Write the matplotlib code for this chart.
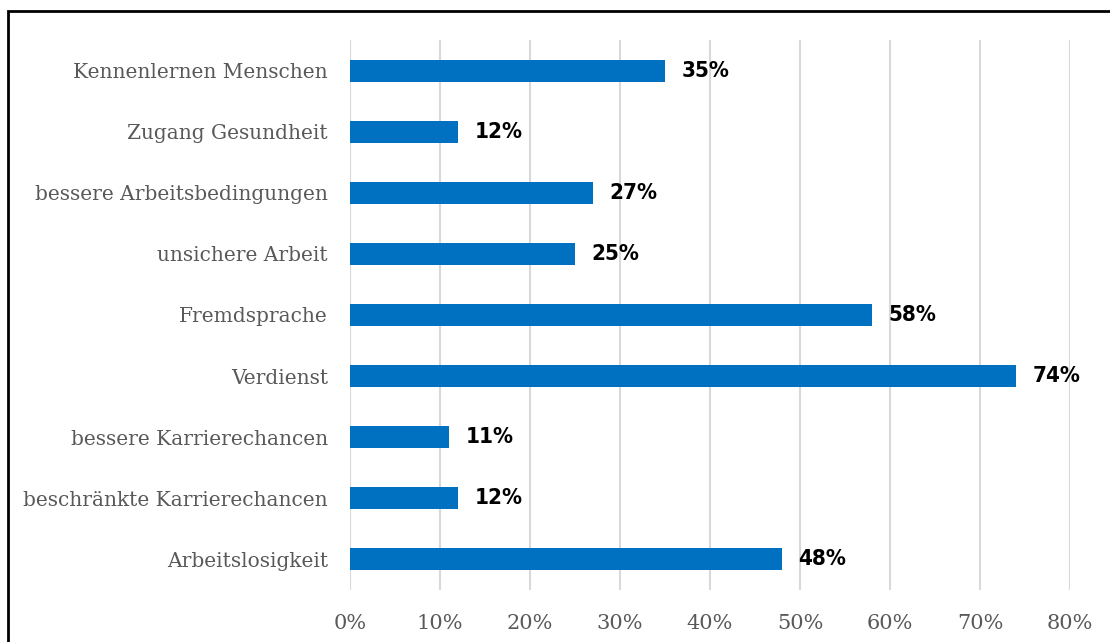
import matplotlib.pyplot as plt
from matplotlib.patches import Rectangle
from matplotlib.ticker import FuncFormatter

# categories listed top to bottom
categories = [
    'Kennenlernen Menschen',
    'Zugang Gesundheit',
    'bessere Arbeitsbedingungen',
    'unsichere Arbeit',
    'Fremdsprache',
    'Verdienst',
    'bessere Karrierechancen',
    'beschränkte Karrierechancen',
    'Arbeitslosigkeit',
]
values = [35, 12, 27, 25, 58, 74, 11, 12, 48]
x_ticks = [0, 10, 20, 30, 40, 50, 60, 70, 80]

fig = plt.figure(figsize=(11.1, 6.42), dpi=100)
ax = fig.add_axes([350 / 1110, 52 / 642, 720 / 1110, 550 / 642])

pos = list(range(len(categories)))[::-1]
ax.barh(pos, values, height=0.36, color='#0070C0', zorder=3)

for y, v in zip(pos, values):
    ax.text(v + 1.8, y, f'{v}%', va='center', ha='left', fontsize=16,
            fontweight='heavy', color='black', family='DejaVu Sans',
            fontstretch='condensed')

ax.set_xlim(0, 80)
ax.set_ylim(-0.5, len(categories) - 0.5)
ax.set_xticks(x_ticks)
ax.xaxis.set_major_formatter(FuncFormatter(lambda x, p: f'{x:.0f}%'))
ax.set_yticks(pos)
ax.set_yticklabels(categories)
ax.tick_params(length=0, colors='#595959')
ax.tick_params(axis='x', pad=17, labelsize=15)
ax.tick_params(axis='y', pad=16, labelsize=14.5)
for lab in ax.get_xticklabels() + ax.get_yticklabels():
    lab.set_family('DejaVu Serif')
ax.grid(axis='x', color='#d9d9d9', linewidth=1.5, zorder=0)
for s in ax.spines.values():
    s.set_visible(False)

# outer frame (cut off at right and bottom)
fig.patches.append(Rectangle((8 / 1110, -0.1), 1.2, 1.1 - 11 / 642,
                             transform=fig.transFigure, fill=False,
                             edgecolor='black', linewidth=2, clip_on=False))

fig.savefig('out.png', dpi=100)
